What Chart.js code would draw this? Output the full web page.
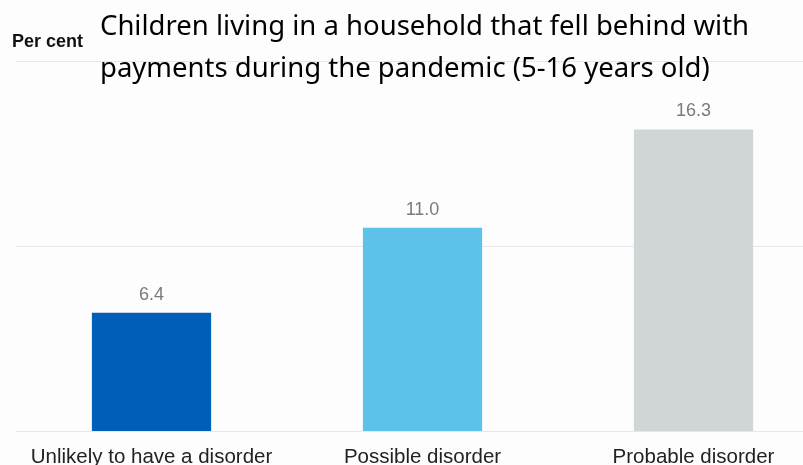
<!DOCTYPE html>
<html>
<head>
<meta charset="utf-8">
<script src="https://cdn.jsdelivr.net/npm/chart.js@4/dist/chart.umd.min.js"></script>
<style>
html,body{margin:0;padding:0;overflow:hidden;background:#fdfdfd;}
#wrap{width:840px;height:484px;position:relative;}
</style>
</head>
<body>
<div id="wrap"><canvas id="c" width="840" height="484"></canvas></div>
<script>
const categories = ["Unlikely to have a disorder", "Possible disorder", "Probable disorder"];
const values = [6.4, 11.0, 16.3];
const barColors = ["#005EB8", "#5EC1EA", "#D0D5D6"];
const titleLines = ["Children living in a household that fell behind with", "payments during the pandemic (5-16 years old)"];
const yAxisLabel = "Per cent";
const yTicks = [0, 10, 20];

const bgPlugin = {
  id: 'bg',
  beforeDraw(chart) {
    const ctx = chart.ctx;
    ctx.save();
    ctx.fillStyle = '#fdfdfd';
    ctx.fillRect(0, 0, chart.width, chart.height);
    ctx.restore();
  }
};

const textPlugin = {
  id: 'texts',
  afterDraw(chart) {
    const ctx = chart.ctx;
    ctx.save();
    ctx.fillStyle = '#111';
    ctx.textBaseline = 'alphabetic';
    ctx.textAlign = 'left';
    ctx.font = 'bold 18px "Liberation Sans", Arial, sans-serif';
    ctx.fillText(yAxisLabel, 12, 47);
    ctx.font = '27.5px "Noto Sans", sans-serif';
    ctx.fillStyle = '#000';
    ctx.fillText(titleLines[0], 100, 35);
    ctx.fillText(titleLines[1], 100, 77);
    ctx.restore();
  },
  afterDatasetsDraw(chart) {
    const ctx = chart.ctx;
    const meta = chart.getDatasetMeta(0);
    ctx.save();
    ctx.fillStyle = '#7a7a7a';
    ctx.font = '18px "Liberation Sans", Arial, sans-serif';
    ctx.textAlign = 'center';
    ctx.textBaseline = 'middle';
    meta.data.forEach((bar, i) => {
      ctx.fillText(values[i].toFixed(1), bar.x, bar.y - 18);
    });
    ctx.restore();
  }
};

new Chart(document.getElementById('c'), {
  type: 'bar',
  data: {
    labels: categories,
    datasets: [{
      data: values,
      backgroundColor: barColors,
      borderWidth: 0,
      categoryPercentage: 1.0,
      barPercentage: 0.44
    }]
  },
  options: {
    responsive: false,
    animation: false,
    layout: { padding: { left: 16, right: 11, top: 61, bottom: 0 } },
    plugins: { legend: { display: false }, tooltip: { enabled: false }, title: { display: false } },
    scales: {
      x: {
        grid: { display: false, drawTicks: false },
        border: { display: false },
        ticks: {
          color: '#222',
          padding: 14,
          font: { family: '"Liberation Sans", Arial, sans-serif', size: 20.5 }
        }
      },
      y: {
        min: yTicks[0],
        max: yTicks[yTicks.length - 1],
        afterBuildTicks(scale) { scale.ticks = yTicks.map(v => ({ value: v })); },
        grid: { color: '#e6e6ee', lineWidth: 1, drawTicks: false, tickLength: 0 },
        border: { display: false },
        ticks: { display: false }
      }
    }
  },
  plugins: [bgPlugin, textPlugin]
});
</script>
</body>
</html>
